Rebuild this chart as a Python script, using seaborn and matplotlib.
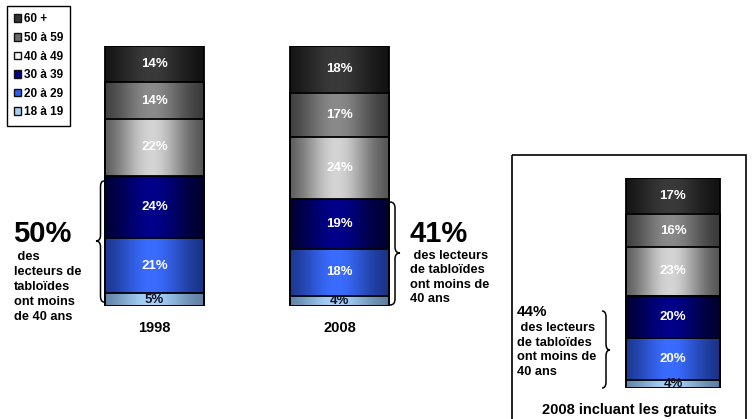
import numpy as np
import pandas as pd
import matplotlib
matplotlib.use("Agg")
import matplotlib.pyplot as plt
import seaborn as sns
from matplotlib.path import Path
from matplotlib.patches import PathPatch, Rectangle, Patch
from matplotlib.colors import to_rgb
from matplotlib.transforms import Affine2D

# ---------------- data ----------------
age_groups = ["60 +", "50 à 59", "40 à 49", "30 à 39", "20 à 29", "18 à 19"]
years = ["1998", "2008"]
share_1998 = [14, 14, 22, 24, 21, 5]
share_2008 = [18, 17, 24, 19, 18, 4]
free_cat = ["2008 incluant les gratuits"]
share_2008_free = [17, 16, 23, 20, 20, 4]
under40 = ["50%", "41%", "44%"]
note_left = " des\nlecteurs de\ntabloïdes\nont moins\nde 40 ans"
note_mid = " des lecteurs\nde tabloïdes\nont moins de\n40 ans"
note_right = " des lecteurs\nde tabloïdes\nont moins de\n40 ans"

# ---------------- styles ----------------
edge_cols = ["#121212", "#3a3a3a", "#555555", "#00002e", "#1a3388", "#5f7fa0"]
center_cols = ["#3a3a3a", "#8a8a8a", "#d4d4d4", "#00008a", "#3a6cff", "#a6d2fa"]
legend_cols = ["#333333", "#6a6a6a", "#f2f2f2", "#000080", "#2a5cf0", "#a8d0f5"]
label_cols = ["white", "white", "white", "white", "white", "#101020"]

sns.set_style("white")
plt.rcParams["font.family"] = ["Liberation Sans", "DejaVu Sans"]
plt.rcParams["font.weight"] = "bold"
plt.rcParams["text.color"] = "black"
plt.rcParams["xtick.color"] = "black"

W, H = 752, 419
fig = plt.figure(figsize=(W / 100, H / 100), dpi=100)
fig.patch.set_facecolor("white")

px = Affine2D().scale(1 / W, -1 / H).translate(0, 1) + fig.transFigure


def gradient(c_edge, c_mid, n=100):
    t = np.linspace(0, 1, n)
    w = np.exp(-((t - 0.47) / 0.36) ** 2)
    w = (w - w.min()) / (w.max() - w.min())
    e, m = np.array(to_rgb(c_edge)), np.array(to_rgb(c_mid))
    return (e[None, :] + (m - e)[None, :] * w[:, None])[None, :, :]


def draw_stack(ax, cats, shares_list, width):
    cums = [np.cumsum(s[::-1])[::-1] for s in shares_list]
    for i, g in enumerate(age_groups):
        df = pd.DataFrame({"cat": cats, "top": [c[i] for c in cums]})
        n0 = len(ax.patches)
        sns.barplot(data=df, x="cat", y="top", order=cats, color=legend_cols[i],
                    width=width, saturation=1, ax=ax, edgecolor="black",
                    linewidth=1.3, errorbar=None)
        for p in ax.patches[n0:]:
            x, w, h = p.get_x(), p.get_width(), p.get_height()
            ax.imshow(gradient(edge_cols[i], center_cols[i]), extent=[x, x + w, 0, h],
                      aspect="auto", interpolation="bilinear", zorder=1 + i * 0.1)
            p.set_facecolor("none")
            p.set_zorder(5)
    for j, c in enumerate(cums):
        for i, v in enumerate(shares_list[j]):
            ax.text(j, c[i] - v / 2, f"{v}%", ha="center", va="center",
                    color=label_cols[i], fontsize=9.5, fontweight="bold", zorder=6)
    ax.set_ylim(0, 100)
    ax.set_ylabel("")
    ax.set_xlabel("")
    for s in ax.spines.values():
        s.set_visible(False)
    ax.yaxis.set_visible(False)
    ax.set_facecolor("none")


# main axes : 1998 / 2008
ax1 = fig.add_axes([62 / W, 113 / H, 370 / W, 260 / H])
draw_stack(ax1, years, [share_1998, share_2008], 0.535)
ax1.set_xlim(-0.5, 1.5)
ax1.tick_params(axis="x", length=0, pad=11, labelsize=10.5, labelcolor="black")
for t in ax1.get_xticklabels():
    t.set_fontweight("bold")

# inset axes : 2008 incl. free papers
ax2 = fig.add_axes([586 / W, 31 / H, 174 / W, 210 / H])
draw_stack(ax2, free_cat, [share_2008_free], 0.535)
ax2.set_xlim(-0.5, 0.5)
ax2.set_xticks([])

# frame around inset
fig.add_artist(Rectangle((512, 155), 234, 280, transform=px, fill=False,
                         edgecolor="black", linewidth=1.2))
fig.text(629, 410, free_cat[0], transform=px, ha="center", va="center",
         fontsize=10.5, fontweight="bold")


def brace(x_spine, x_tip, x_end, y_top, y_bot, y_mid, r=6):
    verts = [(x_end, y_top), (x_spine, y_top), (x_spine, y_top + r),
             (x_spine, y_mid - r), (x_spine, y_mid), (x_tip, y_mid),
             (x_spine, y_mid), (x_spine, y_mid + r),
             (x_spine, y_bot - r), (x_spine, y_bot), (x_end, y_bot)]
    codes = [Path.MOVETO, Path.CURVE3, Path.CURVE3, Path.LINETO, Path.CURVE3,
             Path.CURVE3, Path.CURVE3, Path.CURVE3, Path.LINETO, Path.CURVE3,
             Path.CURVE3]
    fig.add_artist(PathPatch(Path(verts, codes), transform=px, fill=False,
                             edgecolor="black", linewidth=1.1))


brace(100.5, 96, 104, 181, 302, 241)
brace(395, 400, 390, 202, 305, 253)
brace(606, 610, 602, 311, 388, 350)

# annotations
fig.text(13, 242, under40[0], transform=px, ha="left", va="baseline",
         fontsize=21, fontweight="bold")
fig.text(14, 251, note_left, transform=px, ha="left", va="top",
         fontsize=9.2, fontweight="bold", linespacing=1.32)
fig.text(410, 242, under40[1], transform=px, ha="left", va="baseline",
         fontsize=21, fontweight="bold")
fig.text(410, 250, note_mid, transform=px, ha="left", va="top",
         fontsize=9.2, fontweight="bold", linespacing=1.25)
fig.text(517, 316, under40[2], transform=px, ha="left", va="baseline",
         fontsize=11, fontweight="bold")
fig.text(517, 322, note_right, transform=px, ha="left", va="top",
         fontsize=9.2, fontweight="bold", linespacing=1.3)

# legend
handles = [Patch(facecolor=c, edgecolor="#111111", linewidth=1.0, label=g)
           for g, c in zip(age_groups, legend_cols)]
leg = fig.legend(handles=handles, loc="upper left", bbox_to_anchor=(7 / W, 1 - 6 / H),
                 frameon=True, fancybox=False, edgecolor="black", framealpha=1,
                 prop={"weight": "bold", "size": 8.5}, handlelength=0.6,
                 handleheight=0.6, handletextpad=0.2, labelspacing=0.56,
                 borderpad=0.62, borderaxespad=0)
leg.get_frame().set_linewidth(1.0)

fig.savefig("out.png", dpi=100)
